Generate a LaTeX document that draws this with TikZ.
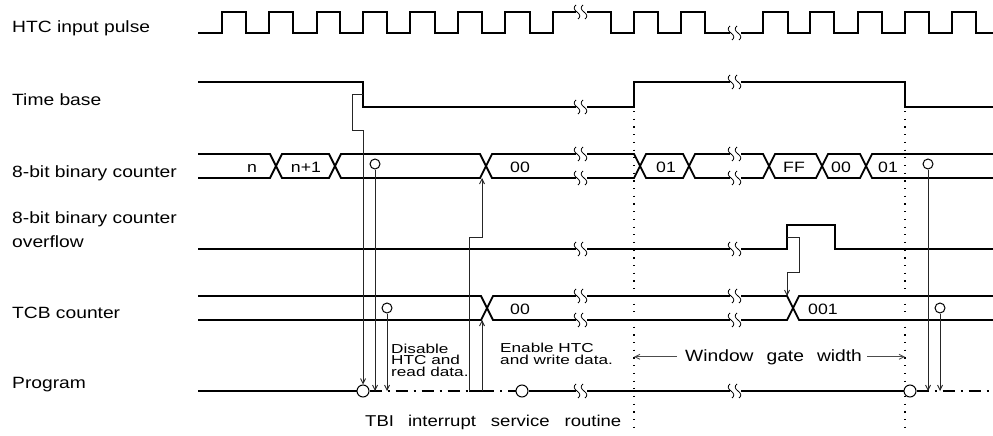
\documentclass[tikz,border=0pt]{standalone}
\usepackage{fontspec}
\setmainfont[FakeStretch=1.18]{Liberation Sans}
\usetikzlibrary{arrows.meta}
\newcommand\sbrk[2]{%
  \fill[white] (#1-3.5,#2-2.4) rectangle (#1+7.5,#2+2.4);
  \draw[line width=0.8pt] (#1-3,#2-7) .. controls (#1-6,#2-5) and (#1-5,#2-2) .. (#1-2,#2) .. controls (#1+1,#2+2) and (#1+2,#2+5) .. (#1-1,#2+7);
  \draw[line width=0.8pt] (#1+4,#2-7) .. controls (#1+1,#2-5) and (#1+2,#2-2) .. (#1+5,#2) .. controls (#1+8,#2+2) and (#1+9,#2+5) .. (#1+6,#2+7);
}
\begin{document}
\begin{tikzpicture}[x=1pt,y=-1pt,
  sig/.style={line width=1.8pt, line join=miter},
  thinln/.style={line width=0.9pt, black!85},
  arr/.style={thinln, -{Straight Barb[length=5pt,width=5pt]}},
  dotln/.style={line width=1.1pt, dash pattern=on 1.2pt off 6.5pt},
  dashln/.style={line width=1.5pt, dash pattern=on 12pt off 6pt on 2pt off 6pt},
  lbl/.style={anchor=base west, inner sep=0pt, font=\fontsize{16.3}{19}\selectfont},
  bustxt/.style={anchor=base, inner sep=0pt, font=\fontsize{15}{18}\selectfont},
  small/.style={anchor=base west, inner sep=0pt, font=\fontsize{13}{15}\selectfont},
  circ/.style={circle, draw, fill=white, line width=1pt, inner sep=0pt, minimum size=10pt},
  pcirc/.style={circle, draw, fill=white, line width=1pt, inner sep=0pt, minimum size=12pt}]
\useasboundingbox (0,0) rectangle (993,436);

% left labels
\node[lbl] (l1) at (12,33) {HTC input pulse};
\node[lbl] (l2) at (12,105) {Time base};
\node[lbl] (l3) at (12,177) {8-bit binary counter};
\node[lbl] (l4a) at (12,223) {8-bit binary counter};
\node[lbl] (l4b) at (12,247) {overflow};
\node[lbl] (l5) at (12,318) {TCB counter};
\node[lbl] (l6) at (12,388) {Program};

% dotted lines
\coordinate (d1t) at (634,111); \coordinate (d1b) at (634,434);
\coordinate (d2t) at (905,111); \coordinate (d2b) at (905,434);
\draw[dotln] (d1t) -- (d1b);
\draw[dotln] (d2t) -- (d2b);

% HTC input pulse
\draw[sig] (198,33) -- (222,33)
  -- (222,12) -- (246,12) -- (246,33) -- (269,33)
  -- (269,12) -- (293,12) -- (293,33) -- (317,33)
  -- (317,12) -- (340,12) -- (340,33) -- (363,33)
  -- (363,12) -- (387,12) -- (387,33) -- (410,33)
  -- (410,12) -- (435,12) -- (435,33) -- (458,33)
  -- (458,12) -- (482,12) -- (482,33) -- (505,33)
  -- (505,12) -- (530,12) -- (530,33) -- (553,33)
  -- (553,12) -- (611,12) -- (611,33) -- (634,33)
  -- (634,12) -- (658,12) -- (658,33) -- (681,33)
  -- (681,12) -- (705,12) -- (705,33) -- (763,33)
  -- (763,12) -- (788,12) -- (788,33) -- (810,33)
  -- (810,12) -- (834,12) -- (834,33) -- (858,33)
  -- (858,12) -- (882,12) -- (882,33) -- (905,33)
  -- (905,12) -- (929,12) -- (929,33) -- (952,33)
  -- (952,12) -- (976,12) -- (976,33) -- (993,33);

% Time base
\draw[sig] (198,82) -- (363,82) -- (363,107) -- (634,107) -- (634,82) -- (905,82) -- (905,107) -- (993,107);

% 8-bit binary counter
\draw[sig] (198,154) -- (270,154) -- (282,178) -- (329,178) -- (341,154) -- (480,154) -- (492,178) -- (634,178) -- (646,154) -- (683,154) -- (695,178) -- (763,178) -- (775,154) -- (816,154) -- (828,178) -- (860,178) -- (872,154) -- (993,154);
\draw[sig] (198,178) -- (270,178) -- (282,154) -- (329,154) -- (341,178) -- (480,178) -- (492,154) -- (634,154) -- (646,178) -- (683,178) -- (695,154) -- (763,154) -- (775,178) -- (816,178) -- (828,154) -- (860,154) -- (872,178) -- (993,178);
\node[bustxt] (bn) at (252,172) {n};
\node[bustxt] (bn1) at (306,172) {n+1};
\node[bustxt] (b00) at (520,172) {00};
\node[bustxt] (b01) at (666,172) {01};
\node[bustxt] (bff) at (794,172) {FF};
\node[bustxt] (b00b) at (841,172) {00};
\node[bustxt] (b01b) at (888,172) {01};

% overflow
\draw[sig] (198,249) -- (787,249) -- (787,225) -- (835,225) -- (835,249) -- (993,249);

% TCB counter
\draw[sig] (198,296) -- (481,296) -- (493,320) -- (787,320) -- (799,296) -- (993,296);
\draw[sig] (198,320) -- (481,320) -- (493,296) -- (787,296) -- (799,320) -- (993,320);
\node[bustxt] (t00) at (520,314) {00};
\node[bustxt] (t001) at (823,314) {001};

% breaks
\sbrk{579}{12} \sbrk{733}{33}
\sbrk{579}{107} \sbrk{733}{82}
\sbrk{579}{154} \sbrk{579}{178} \sbrk{733}{154} \sbrk{733}{178}
\sbrk{579}{249} \sbrk{733}{249}
\sbrk{579}{296} \sbrk{579}{320} \sbrk{733}{296} \sbrk{733}{320}

% program line
\node[pcirc] (p1) at (363,391) {};
\node[pcirc] (p2) at (522,391) {};
\node[pcirc] (p3) at (910,391) {};
\coordinate (ps) at (198,391);
\coordinate (pa) at (469,391);
\coordinate (pb) at (482,391);
\coordinate (pe) at (993,391);
\draw[sig] (ps) -- (p1.west);
\draw[dashln] (p1.east) -- (pa);
\draw[sig] (pa) -- (pb);
\draw[dashln] (pb) -- (p2.west);
\draw[sig] (p2.east) -- (p3.west);
\draw[dashln] (p3.east) -- (pe);
\sbrk{579}{391} \sbrk{733}{391}

% circles on buses
\node[circ] (c1) at (375,164) {};
\node[circ] (c2) at (387,308) {};
\node[circ] (c3) at (928,164) {};
\node[circ] (c4) at (940,308) {};

% connectors
\coordinate (tbf) at (363,94);
\draw[arr] (tbf) -- (352,94) -- (352,130) -- (363,130) -- (p1.north);
\draw[arr] (c1.south) -- (c1.south |- pa);
\draw[arr] (c2.south) -- (c2.south |- pa);
\coordinate (x8) at (482,178);
\coordinate (xt) at (482,320);
\draw[arr] (pa) -- (469,237) -- (482,237) -- (x8);
\draw[arr] (pb) -- (xt);
\coordinate (ovr) at (787,237);
\coordinate (tx) at (787,296);
\draw[arr] (ovr) -- (799,237) -- (799,272) -- (787,272) -- (tx);
\draw[arr] (c3.south) -- (c3.south |- pa);
\draw[arr] (c4.south) -- (c4.south |- pa);

% texts
\node[small] (ds1) at (391,353) {\scalebox{1.12}[1]{Disable}};
\node[small] (ds2) at (391,364.5) {\scalebox{1.12}[1]{HTC and}};
\node[small] (ds3) at (391,376) {\scalebox{1.12}[1]{read data.}};
\node[small] (en1) at (500,352) {\scalebox{1.12}[1]{Enable HTC}};
\node[small] (en2) at (500,364) {\scalebox{1.12}[1]{and write data.}};

\node[lbl] (wg) at (685,361) {Window\hspace{13pt}gate\hspace{13pt}width};
\draw[arr, black!70] ([xshift=-8pt]wg.west) -- (wg.west -| d1t);
\draw[arr, black!70] ([xshift=5pt]wg.east) -- (wg.east -| d2t);

\node[lbl, font=\fontsize{15.7}{18}\selectfont] (tbi) at (365,426) {TBI\hspace{14pt}interrupt\hspace{15pt}service\hspace{15pt}routine};
\end{tikzpicture}
\end{document}
